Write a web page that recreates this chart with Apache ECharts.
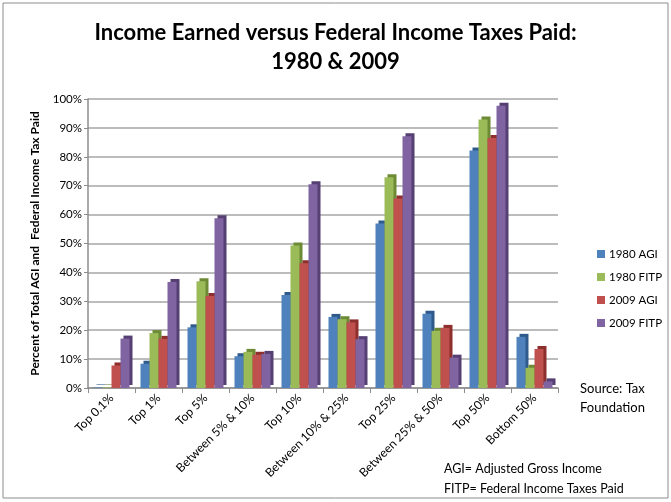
<!DOCTYPE html>
<html>
<head>
<meta charset="utf-8">
<script src="https://cdn.jsdelivr.net/npm/echarts@6/dist/echarts.min.js"></script>
<style>
  html, body { margin: 0; padding: 0; background: #fff; }
  #main { width: 671px; height: 502px; }
</style>
</head>
<body>
<div id="main"></div>
<script>
// categories and shares (percent of total)
var groups = ['Top 0.1%', 'Top 1%', 'Top 5%', 'Between 5% & 10%', 'Top 10%',
    'Between 10% & 25%', 'Top 25%', 'Between 25% & 50%', 'Top 50%', 'Bottom 50%'];
var agi1980 = [0.2, 8.4, 21.0, 11.0, 32.2, 24.6, 56.9, 25.7, 82.2, 17.7];
var fitp1980 = [0.2, 19.0, 36.9, 12.5, 49.3, 23.8, 72.9, 19.8, 92.9, 7.0];
var agi2009 = [7.8, 17.0, 31.8, 11.5, 43.2, 22.7, 65.6, 20.8, 86.5, 13.5];
var fitp2009 = [17.1, 36.7, 58.7, 11.8, 70.5, 16.9, 87.1, 10.5, 97.7, 2.3];
var yTicks = [0, 10, 20, 30, 40, 50, 60, 70, 80, 90, 100];

var FONT = 'Lato';

(function () {
    var myChart = echarts.init(document.getElementById('main'));

    // flat bar with a dark offset shadow standing in for the 3D side face
    function barSeries(name, data, color, side) {
        return {
            name: name, type: 'bar',
            data: data,
            barWidth: 9,
            barGap: '0%',
            itemStyle: {
                color: color,
                shadowColor: side,
                shadowOffsetX: 3,
                shadowOffsetY: -3,
                shadowBlur: 0
            },
            emphasis: { disabled: true }
        };
    }

    var option = {
        animation: false,
        textStyle: { fontFamily: FONT },
        title: {
            text: 'Income Earned versus Federal Income Taxes Paid:\n1980 & 2009',
            left: 'center',
            top: 13,
            textStyle: { fontFamily: FONT, fontSize: 22, fontWeight: 'bold', lineHeight: 29, color: '#000' }
        },
        legend: {
            orient: 'vertical',
            left: 592,
            top: 243,
            itemWidth: 8,
            itemHeight: 8,
            itemGap: 11,
            icon: 'rect',
            textStyle: { fontFamily: FONT, fontSize: 11.5, color: '#000', padding: [0, 0, 0, -1] },
            data: ['1980 AGI', '1980 FITP', '2009 AGI', '2009 FITP']
        },
        grid: { left: 88, right: 113, top: 99, bottom: 114 },
        xAxis: {
            type: 'category',
            data: groups,
            axisLine: { lineStyle: { color: '#8c8c8c', width: 1.5 } },
            axisTick: { show: true, length: 5, lineStyle: { color: '#8c8c8c' } },
            axisLabel: { rotate: 45, fontSize: 12, color: '#000', margin: 8, interval: 0 }
        },
        yAxis: {
            type: 'value',
            min: 0, max: 100, interval: 10,
            name: 'Percent of Total AGI and  Federal Income Tax Paid',
            nameLocation: 'middle',
            nameGap: 47,
            nameTextStyle: { fontSize: 12, fontWeight: 'bold', color: '#000' },
            axisLine: { show: true, lineStyle: { color: '#8c8c8c', width: 1.5 } },
            axisTick: { show: true, length: 4, lineStyle: { color: '#8c8c8c' } },
            axisLabel: {
                fontSize: 11.5, color: '#000', margin: 6,
                formatter: function (v) { return yTicks.indexOf(v) >= 0 ? v + '%' : ''; }
            },
            splitLine: { lineStyle: { color: '#a6a6a6', width: 1.5 } }
        },
        graphic: [
            { type: 'rect', shape: { x: 3, y: 3, width: 665, height: 495 },
              style: { fill: 'none', stroke: '#8c8c8c', lineWidth: 1 }, z: -1 },
            { type: 'text', left: 580, top: 379,
              style: { text: 'Source: Tax\nFoundation', font: '13px ' + FONT, fill: '#000', lineHeight: 19 } },
            { type: 'text', left: 444, top: 459,
              style: { text: 'AGI= Adjusted Gross Income\nFITP= Federal Income Taxes Paid', font: '12.5px ' + FONT, fill: '#000', lineHeight: 20 } }
        ],
        series: [
            barSeries('1980 AGI', agi1980, '#4f81bd', '#2f5a8c'),
            barSeries('1980 FITP', fitp1980, '#9bbb59', '#6d8a35'),
            barSeries('2009 AGI', agi2009, '#c0504d', '#8c2f2d'),
            barSeries('2009 FITP', fitp2009, '#8064a2', '#553f73')
        ]
    };
    myChart.setOption(option);
})();
</script>
</body>
</html>
